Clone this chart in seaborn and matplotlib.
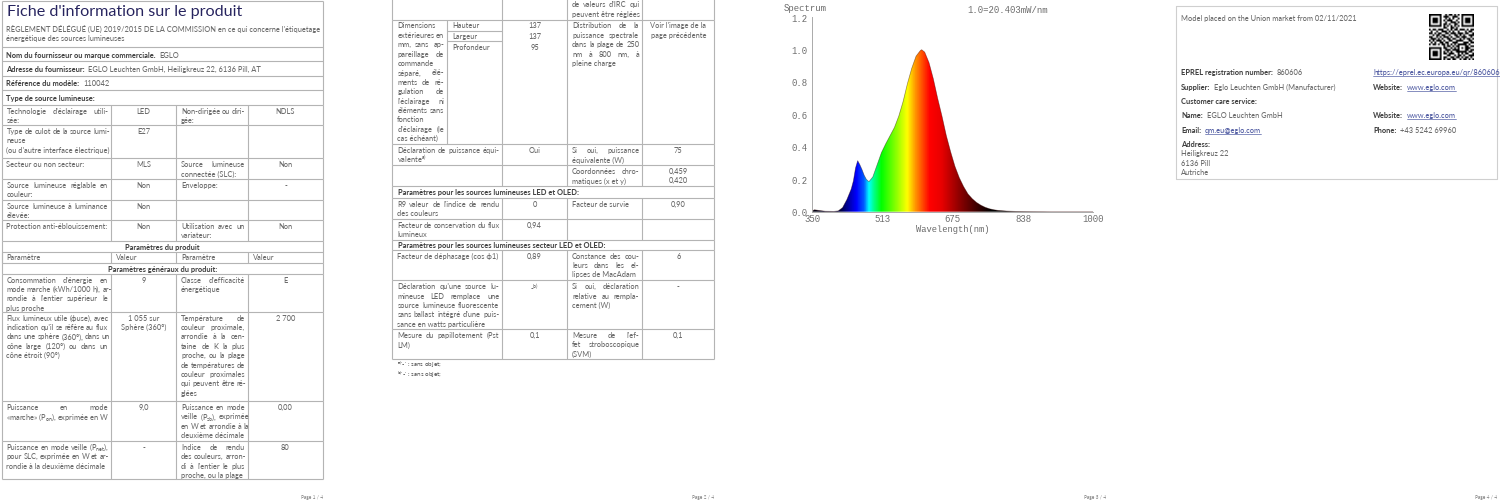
import numpy as np
import matplotlib
matplotlib.use("Agg")
import matplotlib.pyplot as plt
from matplotlib.colors import LinearSegmentedColormap
import seaborn as sns

sns.set_style("white")
plt.rcParams['font.family'] = ['Lato', 'DejaVu Sans']
plt.rcParams['mathtext.default'] = 'regular'
plt.rcParams['text.hinting'] = 'default'

# spectre
wavelength = [350, 355, 365, 380, 400, 410, 420, 430, 440, 445, 450, 455, 460, 465, 470, 475, 481,
              490, 500, 510, 520, 530, 540, 550, 560, 570, 580, 590, 600, 603, 610, 620, 630, 640,
              650, 660, 670, 680, 690, 700, 710, 720, 730, 740, 750, 760, 770, 780, 800, 820, 850,
              900, 1000]
intensity = [0.005, 0.012, 0.008, 0.003, 0.002, 0.005, 0.025, 0.075, 0.14, 0.19, 0.27, 0.315, 0.29,
             0.26, 0.225, 0.2, 0.185, 0.215, 0.29, 0.365, 0.42, 0.47, 0.52, 0.59, 0.68, 0.79, 0.885,
             0.96, 0.995, 1.0, 0.985, 0.92, 0.82, 0.70, 0.59, 0.47, 0.37, 0.28, 0.21, 0.155, 0.11,
             0.08, 0.057, 0.04, 0.027, 0.018, 0.012, 0.008, 0.004, 0.002, 0.001, 0.0, 0.0]
color_waves = [350, 415, 430, 452, 470, 481, 492, 510, 545, 570, 590, 622, 650, 690, 730, 765, 1000]
color_stops = ['#000010', '#000040', '#000090', '#0000ff', '#0060ff', '#00ffff', '#00ff90', '#00ff00',
               '#90ff00', '#ffff00', '#ff9000', '#ff0000', '#e80000', '#900000', '#400000', '#000000', '#000000']
x_ticks = [350, 512.5, 675, 837.5, 1000]
x_tick_labels = ['350', '513', '675', '838', '1000']
y_ticks = [0.0, 0.2, 0.4, 0.6, 0.8, 1.0, 1.2]

# page 1
p1_header = [
    ("Nom du fournisseur ou marque commerciale.", "EGLO"),
    ("Adresse du fournisseur:", "EGLO Leuchten GmbH, Heiligkreuz 22, 6136 Pill, AT"),
    ("Référence du modèle:", "110042"),
    ("Type de source lumineuse:", ""),
]
p1_rows = [
    ("Technologie d'éclairage utili-\nsée:", "LED", "Non-dirigée ou diri-\ngée:", "NDLS"),
    ("Type de culot de la source lumi-\nneuse\n(ou d'autre interface électrique)", "E27", "", ""),
    ("Secteur ou non secteur:", "MLS", "Source lumineuse\nconnectée (SLC):", "Non"),
    ("Source lumineuse réglable en\ncouleur:", "Non", "Enveloppe:", "-"),
    ("Source lumineuse à luminance\nélevée:", "Non", "", ""),
    ("Protection anti-éblouissement:", "Non", "Utilisation avec un\nvariateur:", "Non"),
]
p1_rows2 = [
    ("Consommation d'énergie en\nmode marche (kWh/1000 h), ar-\nrondie à l'entier supérieur le\nplus proche", "9",
     "Classe d'efficacité\nénergétique", "E"),
    ("Flux lumineux utile (ϕuse), avec\nindication qu'il se réfère au flux\ndans une sphère (360º), dans un\ncône large (120º) ou dans un\ncône étroit (90º)",
     "1 055 sur\nSphère (360°)",
     "Température de\ncouleur proximale,\narrondie à la cen-\ntaine de K la plus\nproche, ou la plage\nde températures de\ncouleur proximales\nqui peuvent être ré-\nglées", "2 700"),
    ("Puissance en mode\n«marche» (P$_{on}$), exprimée en W", "9,0",
     "Puissance en mode\nveille (P$_{sb}$), exprimée\nen W et arrondie à la\ndeuxième décimale", "0,00"),
    ("Puissance en mode veille (P$_{net}$),\npour SLC, exprimée en W et ar-\nrondie à la deuxième décimale", "-",
     "Indice de rendu\ndes couleurs, arron-\ndi à l'entier le plus\nproche, ou la plage", "80"),
]
# page 2
p2_rows_a = [
    ("Déclaration de puissance équi-\nvalente$^{a)}$", "Oui", "Si oui, puissance\néquivalente (W)", "75"),
    ("", "", "Coordonnées chro-\nmatiques (x et y)", "0,459\n0,420"),
]
p2_rows_b = [
    ("R9 valeur de l'indice de rendu\ndes couleurs", "0", "Facteur de survie", "0,90"),
    ("Facteur de conservation du flux\nlumineux", "0,94", "", ""),
]
p2_rows_c = [
    ("Facteur de déphasage (cos ϕ1)", "0,89", "Constance des cou-\nleurs dans les el-\nlipses de MacAdam", "6"),
    ("Déclaration qu'une source lu-\nmineuse LED remplace une\nsource lumineuse fluorescente\nsans ballast intégré d'une puis-\nsance en watts particulière", "-$^{b)}$",
     "Si oui, déclaration\nrelative au rempla-\ncement (W)", "-"),
    ("Mesure du papillotement (Pst\nLM)", "0,1", "Mesure de l'ef-\nfet stroboscopique\n(SVM)", "0,1"),
]
dim_labels = ["Hauteur", "Largeur", "Profondeur"]
dim_values = ["137", "137", "95"]
dim_text = "Dimensions\nextérieures en\nmm, sans ap-\npareillage de\ncommande\nséparé, élé-\nments de ré-\ngulation de\nl'éclairage ni\néléments sans\nfonction\nd'éclairage (le\ncas échéant)"
spd_text = "Distribution de la\npuissance spectrale\ndans la plage de 250\nnm à 800 nm, à\npleine charge"
spd_value = "Voir l'image de la\npage précédente"
# page 4
qr_rows = [
    "1111111001011010101111111",
    "1000001011100111001000001",
    "1011101001010100101011101",
    "1011101010111001001011101",
    "1011101001001110101011101",
    "1000001011010011001000001",
    "1111111010101010101111111",
    "0000000011001101000000000",
    "1011011100101011011101011",
    "0100100111010100100010110",
    "1101011001101110111011001",
    "0010110110010011010100111",
    "1100101011101001101110010",
    "0111010100110110010101101",
    "1010111010011001111000110",
    "0101001101100111000111011",
    "1011010110101010111110100",
    "0000000010110101100011011",
    "1111111011001010101011100",
    "1000001001110111100011011",
    "1011101010101001111110110",
    "1011101011011100101011001",
    "1011101000110010110100111",
    "1000001011001101101011010",
    "1111111010110110010110101",
]

TXT = '#6e6e6e'
BOLD = '#444444'
FOOT = '#999999'
LINE = '#b4b4b4'
LINK = '#5560a5'
FS = 5.4
PITCH = 9.4

fig = plt.figure(figsize=(15, 5.02), dpi=100)
doc = fig.add_axes([0, 0, 1, 1])
doc.set_xlim(0, 1500)
doc.set_ylim(502, 0)
doc.axis('off')
renderer = fig.canvas.get_renderer()


def width(t):
    return t.get_window_extent(renderer).width


def put(x, y, s, color=TXT, weight='normal', size=FS, ha='left'):
    # ligne de base commune, sinon les mots justifiés ne sont pas alignés
    return doc.text(x, y + 0.46 * size, s, color=color, fontweight=weight, fontsize=size, ha=ha, va='baseline')


def justified(x0, x1, y, s):
    words = s.split(' ')
    if len(words) == 1:
        put(x0, y, s)
        return
    items = [put(0, y, w) for w in words]
    sizes = [width(t) for t in items]
    gap = (x1 - x0 - sum(sizes)) / (len(words) - 1)
    gap = max(gap, 1.6)
    x = x0
    for t, w in zip(items, sizes):
        t.set_x(x)
        x += w + gap


def cell_text(x0, x1, y, s, centre=False):
    lines = s.split('\n')
    for i, line in enumerate(lines):
        yy = y + i * PITCH
        if centre:
            put((x0 + x1) / 2, yy, line, ha='center')
        elif i < len(lines) - 1:
            justified(x0 + 5, x1 - 3, yy, line)
        else:
            put(x0 + 5, yy, line)


def bold_then(x, y, head, tail, tail_color=TXT, underline=False):
    x1 = x
    if head:
        t = put(x, y, head, color=BOLD, weight='bold')
        x1 = x + width(t) + 4
    if tail:
        t2 = put(x1, y, tail, color=tail_color)
        if underline:
            doc.plot([x1, x1 + width(t2)], [y + 4.3, y + 4.3], color=LINK, lw=0.5)


def hline(x0, x1, y):
    doc.plot([x0, x1], [y, y], color=LINE, lw=0.8, solid_capstyle='butt')


def vline(x, y0, y1):
    doc.plot([x, x], [y0, y1], color=LINE, lw=0.8, solid_capstyle='butt')


def table_rows(rows, tops, cols):
    for row, y0, y1 in zip(rows, tops[:-1], tops[1:]):
        hline(cols[0], cols[-1], y1)
        cell_text(cols[0], cols[1], y0 + 5.5, row[0])
        cell_text(cols[1], cols[2], y0 + 5.5, row[1], centre=True)
        cell_text(cols[2], cols[3], y0 + 5.5, row[2])
        cell_text(cols[3], cols[4], y0 + 5.5, row[3], centre=True)
        for c in cols:
            vline(c, y0, y1)


# page 1
L1, R1 = 1.5, 323
cols1 = [L1, 111, 176, 248, R1]
hline(L1, R1, 1.5)
vline(L1, 1.5, 106)
vline(R1, 1.5, 106)
put(7, 11, "Fiche d'information sur le produit", color='#26235e', size=11.6)
put(6, 29, "RÈGLEMENT DÉLÉGUÉ (UE) 2019/2015 DE LA COMMISSION en ce qui concerne l'étiquetage")
put(6, 39, "énergétique des sources lumineuses")
head_y = [48.3, 62.3, 77, 91, 106]
hline(L1, R1, head_y[0])
for (h, v), y0, y1 in zip(p1_header, head_y[:-1], head_y[1:]):
    bold_then(6, (y0 + y1) / 2, h, v)
    hline(L1, R1, y1)
table_rows(p1_rows, [106, 126, 159, 180, 200.7, 221, 242], cols1)
put((L1 + R1) / 2, 247.5, "Paramètres du produit", color=BOLD, weight='bold', ha='center')
vline(L1, 242, 264)
vline(R1, 242, 264)
hline(L1, R1, 252.7)
for c, s in zip(cols1[:4], ["Paramètre", "Valeur", "Paramètre", "Valeur"]):
    put(c + 5, 258, s)
    vline(c, 252.7, 264)
hline(L1, R1, 264)
put((L1 + R1) / 2, 269.5, "Paramètres généraux du produit:", color=BOLD, weight='bold', ha='center')
vline(L1, 264, 275)
vline(R1, 264, 275)
hline(L1, R1, 274.7)
table_rows(p1_rows2, [274.7, 312.7, 402, 442, 480], cols1)
put(323, 497.5, "Page 1 / 4", color=FOOT, size=3.5, ha='right')

# page 2
L2, R2 = 392.3, 714.3
cols2 = [L2, 502.3, 567, 642.3, R2]
for c in cols2:
    vline(c, 0, 21)
hline(L2, R2, 20.7)
cell_text(567, 642.3, 5, "de valeurs d'IRC qui\npeuvent être réglées")
for c in cols2:
    vline(c, 20.7, 145.3)
vline(447.3, 20.7, 145.3)
hline(447.3, 502.3, 31.7)
hline(447.3, 502.3, 42.3)
hline(L2, R2, 145.3)
cell_text(L2, 447.3, 26, dim_text)
for s, v, y in zip(dim_labels, dim_values, [26, 37, 48]):
    put(452, y, s)
    put(534.5, y, v, ha='center')
cell_text(567, 642.3, 26, spd_text)
cell_text(642.3, R2, 26, spd_value, centre=True)
table_rows(p2_rows_a, [145.3, 166, 186.7], cols2)
bold_then(398, 192.7, "Paramètres pour les sources lumineuses LED et OLED:", "")
vline(L2, 186.7, 198.7)
vline(R2, 186.7, 198.7)
hline(L2, R2, 198.7)
table_rows(p2_rows_b, [198.7, 220, 240.7], cols2)
bold_then(398, 245.7, "Paramètres pour les sources lumineuses secteur LED et OLED:", "")
vline(L2, 240.7, 250.7)
vline(R2, 240.7, 250.7)
hline(L2, R2, 250.7)
table_rows(p2_rows_c, [250.7, 281.3, 330, 360], cols2)
put(397, 365, "$^{a)}$'-' : sans objet;", size=4.6)
put(397, 375, "$^{b)}$'-' : sans objet;", size=4.6)
put(714, 497.5, "Page 2 / 4", color=FOOT, size=3.5, ha='right')

# page 3, spectre
spec = fig.add_axes([812.3 / 1500, 1 - 212.7 / 502, 281 / 1500, 194.4 / 502])
spec.patch.set_alpha(0)
sns.lineplot(x=wavelength, y=intensity, ax=spec, color='#300000', lw=0.5, alpha=0.45)
area = spec.fill_between(wavelength, intensity, 0, color='none')
stops = [(w - 350) / 650 for w in color_waves]
cmap = LinearSegmentedColormap.from_list('spd', list(zip(stops, color_stops)), N=512)
grad = np.arange(350, 1001).reshape(1, -1)
im = spec.imshow(grad, cmap=cmap, vmin=350, vmax=1000, extent=(350, 1000, 0, 1.2), aspect='auto', zorder=1)
im.set_clip_path(area.get_paths()[0], transform=spec.transData)
spec.set_xlim(350, 1000)
spec.set_ylim(0, 1.2)
spec.set_xticks(x_ticks, x_tick_labels)
spec.set_yticks(y_ticks, [f"{v:.1f}" for v in y_ticks])
spec.tick_params(axis='both', length=2, width=0.6, color='#999999', labelsize=6.4, labelcolor='#666666', pad=1.5)
spec.tick_params(axis='x', direction='in', pad=2)
for lab in spec.get_xticklabels() + spec.get_yticklabels():
    lab.set_family('Liberation Mono')
sns.despine(ax=spec)
spec.spines['left'].set_color('#aaaaaa')
spec.spines['bottom'].set_color('#aaaaaa')
spec.spines['left'].set_linewidth(0.7)
spec.spines['bottom'].set_linewidth(0.7)
spec.set_xlabel("Wavelength(nm)", family='Liberation Mono', fontsize=6.3, color='#666666', labelpad=1)
spec.set_ylabel("")
doc.text(784, 8.5, "Spectrum", family='Liberation Mono', fontsize=6.4, color='#666666', va='center')
doc.text(967, 11, "1.0=20.403mW/nm", family='Liberation Mono', fontsize=6.4, color='#666666', va='center')
put(1106, 497.5, "Page 3 / 4", color=FOOT, size=3.5, ha='right')

# page 4
doc.plot([1176, 1497, 1497, 1176, 1176], [7.3, 7.3, 180, 180, 7.3], color='#cfcfcf', lw=0.8)
put(1181, 18.7, "Model placed on the Union market from 02/11/2021")
qr = np.array([[int(c) for c in row] for row in qr_rows])
doc.imshow(1 - qr, cmap='gray', extent=(1429, 1474, 61, 15.7), aspect='auto', interpolation='bilinear', zorder=2)
doc.set_xlim(0, 1500)
doc.set_ylim(502, 0)
bold_then(1181, 73, "EPREL registration number:", "860606")
bold_then(1181, 87.7, "Supplier:", "Eglo Leuchten GmbH (Manufacturer)")
bold_then(1181, 101.7, "Customer care service:", "")
bold_then(1181, 116, "Name:", "EGLO Leuchten GmbH")
bold_then(1181, 130.7, "Email:", "qm.eu@eglo.com", tail_color=LINK, underline=True)
bold_then(1181, 144.7, "Address:", "")
put(1181, 154, "Heiligkreuz 22")
put(1181, 163.3, "6136 Pill")
put(1181, 173, "Autriche")
bold_then(1373, 73, "", "https://eprel.ec.europa.eu/qr/860606", tail_color=LINK, underline=True)
bold_then(1373, 87.7, "Website:", "www.eglo.com", tail_color=LINK, underline=True)
bold_then(1373, 116, "Website:", "www.eglo.com", tail_color=LINK, underline=True)
bold_then(1373, 130.7, "Phone:", "+43 5242 69960")
put(1497, 497.5, "Page 4 / 4", color=FOOT, size=3.5, ha='right')

fig.savefig("out.png", dpi=100)
